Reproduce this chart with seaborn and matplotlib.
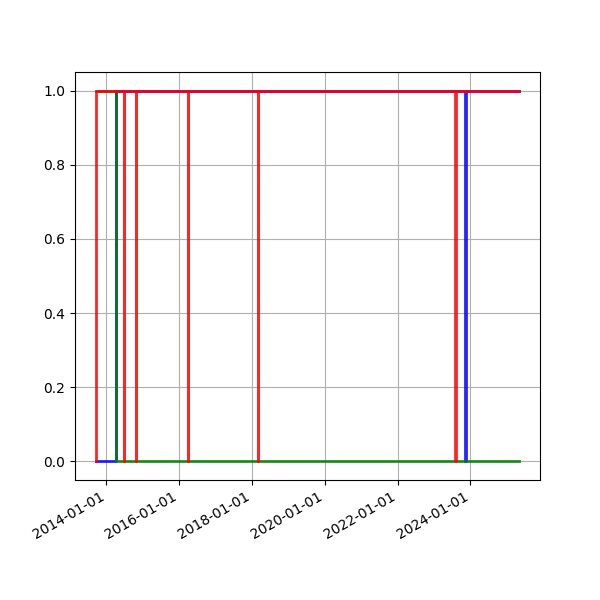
import pandas as pd
import matplotlib
matplotlib.use("Agg")
import matplotlib.pyplot as plt
import matplotlib.dates as mdates
import seaborn as sns

# change points of each 0/1 series (value holds until the next date)
blue_dates = ["2013-09-20", "2014-04-06", "2023-11-09", "2023-11-16", "2025-05-01"]
blue_values = [0, 1, 0, 1, 1]

green_dates = ["2013-09-20", "2014-04-06", "2025-05-01"]
green_values = [1, 0, 0]

red_dates = ["2013-09-20", "2013-09-21", "2014-06-22", "2014-06-29",
             "2014-10-20", "2014-10-27", "2016-03-25", "2016-04-01",
             "2018-03-02", "2018-03-03", "2023-08-01", "2023-08-08",
             "2025-05-01"]
red_values = [0, 1, 0, 1, 0, 1, 0, 1, 0, 1, 0, 1, 1]

series = {"blue": (blue_dates, blue_values),
          "green": (green_dates, green_values),
          "red": (red_dates, red_values)}

frames = []
for name, (d, v) in series.items():
    frames.append(pd.DataFrame({"date": pd.to_datetime(d), "value": v, "series": name}))
df = pd.concat(frames, ignore_index=True)

fig, ax = plt.subplots(figsize=(6, 6), dpi=100)
sns.lineplot(data=df, x="date", y="value", hue="series",
             hue_order=["blue", "green", "red"],
             palette={"blue": "blue", "green": "green", "red": "red"},
             estimator=None, sort=False, drawstyle="steps-post",
             linewidth=2, alpha=0.85, legend=False, ax=ax)

ax.set_xlabel("")
ax.set_ylabel("")
ax.grid(True)
ax.xaxis.set_major_locator(mdates.YearLocator(2))
ax.xaxis.set_major_formatter(mdates.DateFormatter("%Y-%m-%d"))
fig.autofmt_xdate()

plt.savefig("out.png", dpi=100)
plt.close()
